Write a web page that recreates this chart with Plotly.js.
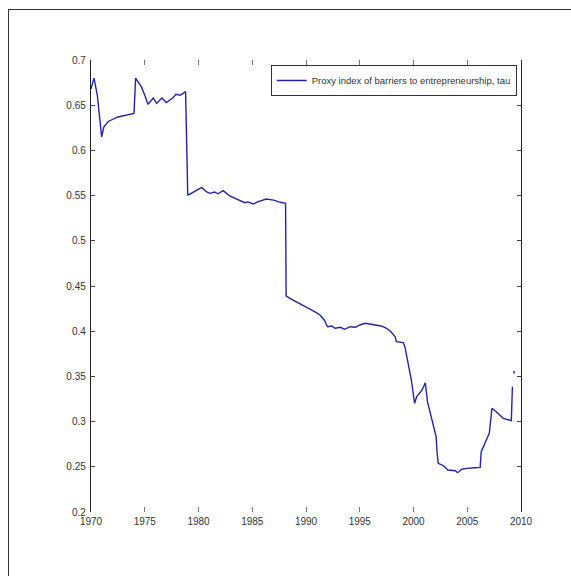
<!DOCTYPE html>
<html>
<head>
<meta charset="utf-8">
<script src="https://cdn.plot.ly/plotly-3.0.1.min.js"></script>
<style>
html,body{margin:0;padding:0;background:#fff;}
#frame{position:absolute;left:8px;top:9px;width:571px;height:576px;border-left:1.5px solid #333;border-top:1.5px solid #333;}
#chart{position:absolute;left:0;top:0;width:571px;height:576px;}
</style>
</head>
<body>
<div id="frame"></div>
<div id="chart"></div>
<script>
// Proxy index of barriers to entrepreneurship, tau
const years = [1970.0,1970.28,1970.59,1970.99,1971.2,1971.6,1972.5,1973.2,1974.0,
  1974.15,1974.7,1975.0,1975.3,1975.8,1976.1,1976.6,1977.0,1977.6,1977.9,1978.3,1978.8,1979.0,
  1979.1,1980.3,1980.76,1981.07,1981.5,1981.8,1982.3,1982.9,1983.4,1984.0,1984.3,1984.6,1985.1,1985.5,1986.3,1987.0,1987.6,1988.1,
  1988.15,1988.5,1989.1,1989.6,1990.2,1990.8,1991.3,1991.7,1992.0,1992.4,1992.7,1993.2,1993.6,1994.1,1994.6,1995.0,1995.5,1996.3,1997.0,1997.5,1997.9,1998.3,1998.4,1999.05,1999.2,
  1999.5,1999.8,2000.1,2000.3,2000.8,2001.1,2001.3,2001.7,2002.1,2002.2,2002.3,2002.8,2003.2,2003.9,2004.1,2004.5,2004.95,2005.7,2006.2,
  2006.3,2006.8,2007.05,2007.3,2007.7,2008.35,2009.1,2009.2,2009.27,2009.33,2009.37];
const tau = [0.668,0.680,0.661,0.615,0.626,0.632,0.637,0.639,0.641,
  0.680,0.670,0.661,0.651,0.658,0.652,0.658,0.653,0.658,0.662,0.661,0.665,0.551,
  0.551,0.559,0.554,0.5525,0.554,0.552,0.5554,0.5496,0.547,0.5444,0.5422,0.543,0.5407,0.543,0.5462,0.545,0.5426,0.5415,
  0.439,0.4364,0.4327,0.429,0.4253,0.4216,0.418,0.4124,0.405,0.4058,0.4032,0.4043,0.4021,0.405,0.4043,0.4069,0.4087,0.4069,0.4058,0.4032,0.3994,0.3939,0.3884,0.3873,0.3829,
  0.3645,0.346,0.3202,0.3276,0.335,0.343,0.322,0.3018,0.2833,0.265,0.2539,0.2512,0.2465,0.2457,0.2435,0.2473,0.2483,0.249,0.2494,
  0.2667,0.2796,0.287,0.3147,0.311,0.3036,0.301,0.3386,null,0.353,0.356];
const seriesName = 'Proxy index of barriers to entrepreneurship, tau';
const xTicks = [1970,1975,1980,1985,1990,1995,2000,2005,2010];
const yTicks = [0.2,0.25,0.3,0.35,0.4,0.45,0.5,0.55,0.6,0.65,0.7];

const font = {family:'"Liberation Sans", Arial, sans-serif', size:10, color:'#333'};
Plotly.newPlot('chart', [{
  x: years, y: tau, type:'scatter', mode:'lines', name: seriesName,
  line:{color:'#2424a8', width:1.4}, connectgaps:false
}], {
  width:571, height:576,
  margin:{l:91, r:50, t:60, b:64},
  paper_bgcolor:'rgba(0,0,0,0)', plot_bgcolor:'rgba(0,0,0,0)',
  font: font,
  showlegend:true,
  legend:{x:0.99, y:0.989, xanchor:'right', yanchor:'top', bordercolor:'#333', borderwidth:1,
    bgcolor:'#fff', font:{family:font.family, size:9.5, color:'#333'}, itemwidth:30},
  xaxis:{range:[1970,2010], tickvals:xTicks, ticktext:xTicks.map(String), showgrid:false, zeroline:false,
    showline:false, ticks:'inside', ticklen:5, tickcolor:'#777', tickwidth:1, mirror:'ticks',
    ticklabelstandoff:2},
  yaxis:{range:[0.2,0.7], tickvals:yTicks, ticktext:yTicks.map(String), showgrid:false, zeroline:false,
    showline:true, linecolor:'#222', linewidth:1.2, mirror:'all', ticks:'inside', ticklen:4, tickcolor:'#444',
    ticklabelstandoff:2}
}, {displayModeBar:false, staticPlot:true});
</script>
</body>
</html>
